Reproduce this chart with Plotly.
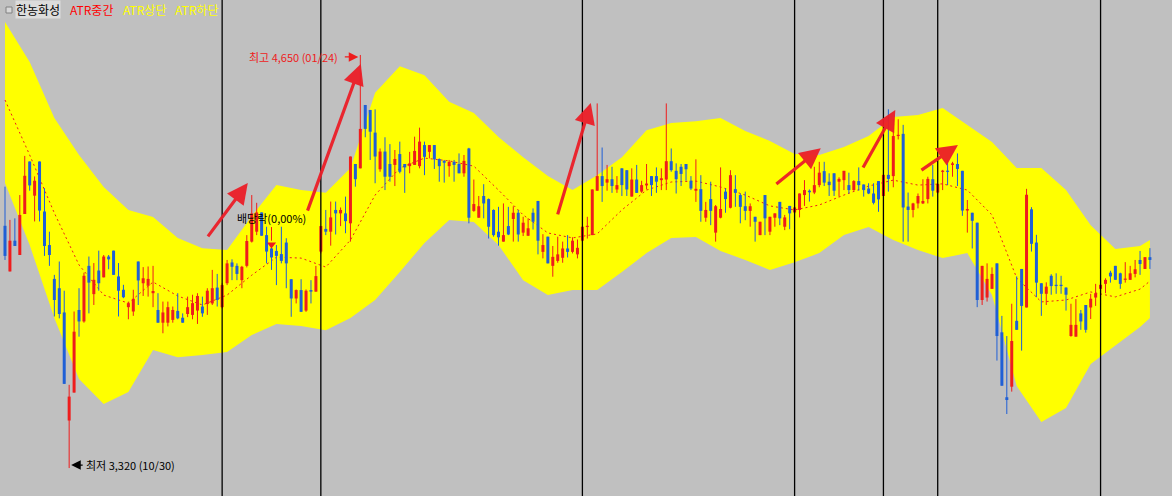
import plotly.graph_objects as go

# ---------------- data (prices) ----------------
opens = [4100,3953,4052,4006,4138,4307,4197,4307,4146,4038,3929,3899,3821,3473,3563,3829,3792,3971,3880,3956,
         3934,4001,4020,3937,3894,3838,3824,3985,3915,3907,3883,3829,3788,3788,3797,3826,3804,3816,3813,3827,
         3840,3848,3850,3901,3838,3915,3982,3971,3925,3971,4049,4081,4143,4070,4027,4019,4009,4046,3928,3866,
         3893,3827,3893,3888,4017,4090,4081,4151,4140,4140,4108,4299,4285,4489,4473,4400,4282,4339,4299,
         4296,4331,4299,4292,4296,4292,4360,4338,4360,4315,4309,4292,4306,4299,4269,4349,4148,4126,4196,4186,
         4151,4081,4049,4099,4122,4142,4078,4068,4142,4180,4016,4065,3971,3987,3997,4027,4016,4008,4052,4097,
         4070,4213,4260,4239,4250,4217,4285,4279,4194,4249,4210,4230,4260,4260,4247,4249,4308,4277,4290,4299,
         4245,4213,4218,4126,4186,4078,4126,4210,4158,4218,4199,4163,4148,4129,4070,4199,4081,4126,4177,4097,
         4164,4143,4151,4199,4213,4207,4231,4276,4242,4269,4242,4247,4231,4215,4244,4233,4220,4204,4244,4196,
         4264,4260,4389,4396,4162,4151,4172,4172,4186,4250,4207,4274,4277,4296,4299,4277,4149,4142,
         4110,3861,3869,3897,3979,3757,3548,3582,3794,3961,3837,4153,4046,3915,3881,3939,3910,3910,3901,3745,
         3743,3818,3845,3837,3869,3897,3913,3949,3971,3947,3926,3926,3945,3990,3961,3999]
highs = [4226,4119,4124,4199,4325,4307,4259,4307,4221,4081,3942,3985,3891,3588,3824,3899,3949,4001,3980,4020,
         4006,4006,4020,3980,3910,3856,3894,3985,3967,3969,3971,3883,3856,3856,3840,3883,3818,3872,3878,3883,
         3872,3899,3958,3945,3915,3990,3992,3979,3971,4070,4199,4174,4143,4097,4043,4038,4097,4060,3928,3895,
         3928,3895,3925,3971,4099,4151,4178,4178,4159,4194,4323,4299,4650,4489,4473,4475,4349,4385,4363,
         4344,4371,4299,4338,4387,4416,4371,4360,4360,4317,4312,4312,4312,4333,4328,4351,4249,4196,4234,4188,
         4153,4161,4172,4161,4163,4151,4129,4124,4156,4180,4073,4065,4035,4065,4049,4070,4063,4056,4097,4129,
         4217,4494,4352,4296,4290,4260,4285,4279,4285,4296,4245,4299,4260,4288,4285,4494,4349,4301,4299,4299,
         4260,4314,4263,4177,4242,4167,4288,4220,4279,4263,4204,4210,4172,4129,4113,4199,4129,4140,4177,4135,
         4164,4162,4204,4247,4217,4290,4306,4306,4269,4269,4256,4277,4271,4247,4288,4233,4237,4237,4244,4264,
         4475,4443,4443,4425,4207,4174,4204,4250,4258,4296,4235,4280,4310,4306,4333,4277,4183,4142,
         4110,3971,3979,3966,3979,3810,3745,3849,3937,3961,4219,4160,4071,3915,3918,3944,3947,3939,3902,3849,
         3864,3829,3845,3881,3913,3926,3931,3955,3971,3949,3983,3971,3990,4019,3999,4028]
lows = [3990,3953,4035,4006,4138,4213,4114,4114,4003,3971,3808,3802,3591,3320,3563,3743,3788,3818,3845,3891,
        3934,3960,3942,3808,3867,3799,3810,3845,3874,3872,3838,3788,3754,3776,3788,3799,3788,3806,3799,3784,
        3807,3813,3845,3840,3834,3909,3925,3925,3899,3966,4046,4070,4068,3979,3958,3909,3979,3899,3807,3850,
        3823,3823,3850,3888,4011,4070,4036,4072,4099,4076,4049,4226,4285,4385,4312,4237,4274,4215,4242,
        4228,4269,4206,4269,4296,4285,4263,4317,4283,4242,4239,4258,4242,4269,4258,4108,4145,4126,4124,4059,
        4065,4036,4049,4070,4049,4049,4067,4067,4088,4008,3995,3979,3936,3981,3981,3998,4011,3995,4049,4059,
        4070,4213,4177,4213,4206,4206,4196,4196,4194,4206,4206,4217,4196,4206,4215,4215,4274,4204,4228,4245,
        4215,4177,4113,4113,4102,4049,4124,4142,4156,4161,4108,4118,4097,4049,4070,4070,4070,4097,4102,4086,
        4089,4140,4127,4164,4178,4202,4224,4228,4196,4196,4194,4215,4204,4213,4213,4194,4202,4169,4145,4196,
        4210,4224,4378,4049,4049,4127,4156,4170,4172,4194,4204,4215,4231,4258,4228,4132,4078,4027,
        3838,3845,3856,3897,3666,3585,3494,3566,3765,3698,3837,4017,3870,3810,3845,3878,3881,3881,3827,3743,
        3743,3765,3756,3800,3842,3885,3883,3917,3926,3897,3917,3926,3934,3942,3961,3961]
closes = [4003,4052,4035,4135,4261,4230,4245,4149,4035,4006,3861,3816,3591,3550,3759,3792,3939,3917,3926,3915,
          4001,3992,3942,3891,3870,3851,3865,3924,3931,3929,3890,3788,3821,3838,3829,3802,3788,3838,3851,3874,
          3818,3891,3899,3861,3909,3979,3968,3945,3968,4051,4140,4143,4068,4017,3998,4003,3987,3979,3866,3893,
          3823,3891,3888,3938,4099,4081,4127,4140,4151,4115,4323,4250,4412,4412,4403,4323,4339,4258,4258,
          4315,4274,4288,4301,4341,4371,4322,4360,4314,4292,4303,4306,4296,4269,4309,4126,4170,4163,4172,4097,
          4070,4063,4070,4072,4142,4072,4110,4092,4113,4052,4038,3979,4000,4008,4027,4016,4052,4029,4097,4099,
          4217,4260,4228,4250,4228,4231,4231,4217,4249,4206,4231,4236,4231,4242,4253,4308,4279,4250,4267,4282,
          4220,4219,4148,4151,4148,4163,4154,4186,4263,4206,4161,4148,4163,4113,4113,4124,4129,4140,4124,4127,
          4140,4159,4204,4215,4208,4231,4271,4239,4231,4213,4251,4277,4215,4244,4231,4215,4204,4174,4185,4264,
          4251,4389,4393,4159,4151,4172,4196,4180,4251,4213,4235,4277,4274,4301,4283,4149,4154,4116,
          3861,3971,3929,3945,3745,3585,3539,3729,3765,3842,4200,4042,3917,3881,3904,3906,3906,3906,3878,3781,
          3781,3792,3765,3865,3883,3910,3926,3937,3926,3913,3930,3947,3960,3977,3999,3990]

# ATR band, sampled every 5 candles (plus the last candle)
band_idx = list(range(0, 231, 5)) + [232]
atr_upper = [4756,4627,4447,4328,4225,4151,4128,4061,4028,4022,4131,4231,4215,4206,4286,4528,4614,4585,4499,4463,
             4386,4321,4260,4215,4263,4321,4408,4431,4437,4447,4405,4373,4331,4328,4354,4389,4450,4457,4479,4424,
             4370,4286,4286,4215,4102,4025,4035,4054]
atr_lower = [4238,4038,3803,3607,3526,3565,3700,3677,3684,3694,3748,3784,3777,3764,3803,3861,3951,4045,4119,4112,
             4038,3925,3877,3893,3893,3951,4012,4061,4064,4019,3990,3958,3983,4012,4070,4096,4054,4022,3996,4012,
             3877,3584,3468,3513,3655,3716,3774,3803]
atr_middle = [4505,4328,4141,3974,3877,3851,3919,3874,3845,3877,3941,3999,3996,3967,4054,4199,4286,4318,4309,4292,
              4215,4135,4077,4061,4074,4151,4215,4241,4244,4225,4199,4164,4151,4167,4199,4228,4247,4231,4235,4215,
              4135,3932,3855,3861,3887,3871,3896,3922]

vline_idx = [44, 64, 117, 160, 178, 189, 222]

high_idx, high_val, high_label = 72, 4650, "최고 4,650 (01/24)"
low_idx, low_val, low_label = 13, 3320, "최저 3,320 (10/30)"
div_idx, div_label = 54, "배당락(0,00%)"

# trend arrows drawn on the chart: (tail index, tail price, head index, head price)
arrows = [(40.9, 4061, 49.2, 4238), (61.2, 4144, 72.1, 4621), (111.9, 4132, 118.7, 4495),
          (156.0, 4231, 165.3, 4350), (173.7, 4283, 180.4, 4473), (185.4, 4276, 193.1, 4360)]

# ---------------- figure ----------------
RED = "#ee1c1c"
BLUE = "#1f5fd6"
W, H = 1172, 496

fig = go.Figure()

# ATR band
fig.add_trace(go.Scatter(
    x=band_idx + band_idx[::-1], y=atr_upper + atr_lower[::-1],
    fill="toself", fillcolor="#ffff00", line=dict(width=0), mode="lines", hoverinfo="skip"))
fig.add_trace(go.Scatter(
    x=band_idx, y=atr_middle, mode="lines",
    line=dict(color=RED, width=1, dash="2px,3px"), hoverinfo="skip"))

n = len(opens)
for up, color in ((True, RED), (False, BLUE)):
    ids = [i for i in range(n) if (closes[i] >= opens[i]) == up]
    wx, wy, bx, by = [], [], [], []
    for i in ids:
        wx += [i, i, None]
        wy += [lows[i], highs[i], None]
        lo, hi = min(opens[i], closes[i]), max(opens[i], closes[i])
        if hi - lo < 4:
            mid = (hi + lo) / 2
            lo, hi = mid - 2, mid + 2
        bx += [i, i, None]
        by += [lo, hi, None]
    fig.add_trace(go.Scatter(x=wx, y=wy, mode="lines", line=dict(color=color, width=1), hoverinfo="skip"))
    fig.add_trace(go.Scatter(x=bx, y=by, mode="lines", line=dict(color=color, width=3), hoverinfo="skip"))

# dividend marker
fig.add_trace(go.Scatter(x=[div_idx, div_idx], y=[4096, 4052], mode="lines",
                         line=dict(color=RED, width=1), hoverinfo="skip"))
fig.add_trace(go.Scatter(x=[div_idx], y=[4040], mode="markers",
                         marker=dict(symbol="triangle-down", size=8, color=RED), hoverinfo="skip"))

shapes = []
for v in vline_idx:
    shapes.append(dict(type="line", xref="x", yref="paper", x0=v, x1=v, y0=0, y1=1,
                       line=dict(color="#000000", width=1.3)))
shapes.append(dict(type="rect", xref="paper", yref="paper",
                   x0=6 / W, x1=12 / W, y0=1 - 13 / H, y1=1 - 7 / H,
                   line=dict(color="#808080", width=1), fillcolor="#d8d8d8"))

KFONT = "Noto Sans CJK KR"
ann = []
# legend-like header
for label, px, col, bg in (("한농화성", 15, "#000000", "#dcdcdc"), ("ATR중간", 69, "#ff0000", None),
                           ("ATR상단", 122, "#ffff00", None), ("ATR하단", 174, "#ffff00", None)):
    d = dict(x=px / W, y=1 - 10 / H, xref="paper", yref="paper", text=label, showarrow=False,
             xanchor="left", yanchor="middle", font=dict(family=KFONT, size=12, color=col), borderpad=0)
    if bg:
        d["bgcolor"] = bg
    ann.append(d)

# high label and arrow
ann.append(dict(x=high_idx, y=high_val, xref="x", yref="y", text=high_label, showarrow=False,
                xanchor="right", yanchor="middle", xshift=-20, yshift=-2,
                font=dict(family=KFONT, size=11, color="#ee1c1c")))
ann.append(dict(x=high_idx, y=high_val, xref="x", yref="y", text="", showarrow=True,
                ax=-17, ay=0, arrowhead=2, arrowsize=1.6, arrowwidth=1.2, arrowcolor="#ee1c1c",
                standoff=2, yshift=-2))
# low label and arrow
ann.append(dict(x=low_idx, y=low_val, xref="x", yref="y", text=low_label, showarrow=False,
                xanchor="left", yanchor="middle", xshift=15, yshift=3,
                font=dict(family=KFONT, size=11, color="#000000")))
ann.append(dict(x=low_idx, y=low_val, xref="x", yref="y", text="", showarrow=True,
                ax=15, ay=0, arrowhead=2, arrowsize=1.6, arrowwidth=1.2, arrowcolor="#000000",
                standoff=2, yshift=3))
# dividend label
ann.append(dict(x=div_idx, y=4125, xref="x", yref="y", text=div_label, showarrow=False,
                xanchor="center", yanchor="middle",
                font=dict(family=KFONT, size=11, color="#000000")))
# trend arrows
for tx, ty, hx, hy in arrows:
    ann.append(dict(x=hx, y=hy, ax=tx, ay=ty, xref="x", yref="y", axref="x", ayref="y",
                    text="", showarrow=True, arrowhead=2, arrowsize=1.3, arrowwidth=3.2,
                    arrowcolor="rgba(236,30,40,0.95)", standoff=0))

fig.update_layout(
    width=W, height=H, margin=dict(l=0, r=0, t=0, b=0),
    paper_bgcolor="#c0c0c0", plot_bgcolor="#c0c0c0",
    showlegend=False,
    xaxis=dict(visible=False, range=[-5 / 4.935, -5 / 4.935 + W / 4.935], fixedrange=True),
    yaxis=dict(visible=False, range=[3230, 4827], fixedrange=True),
    shapes=shapes, annotations=ann,
)

fig.write_html("out.html", config={"displayModeBar": False},
               post_script="document.body.style.margin='0';document.body.style.overflow='hidden';")
